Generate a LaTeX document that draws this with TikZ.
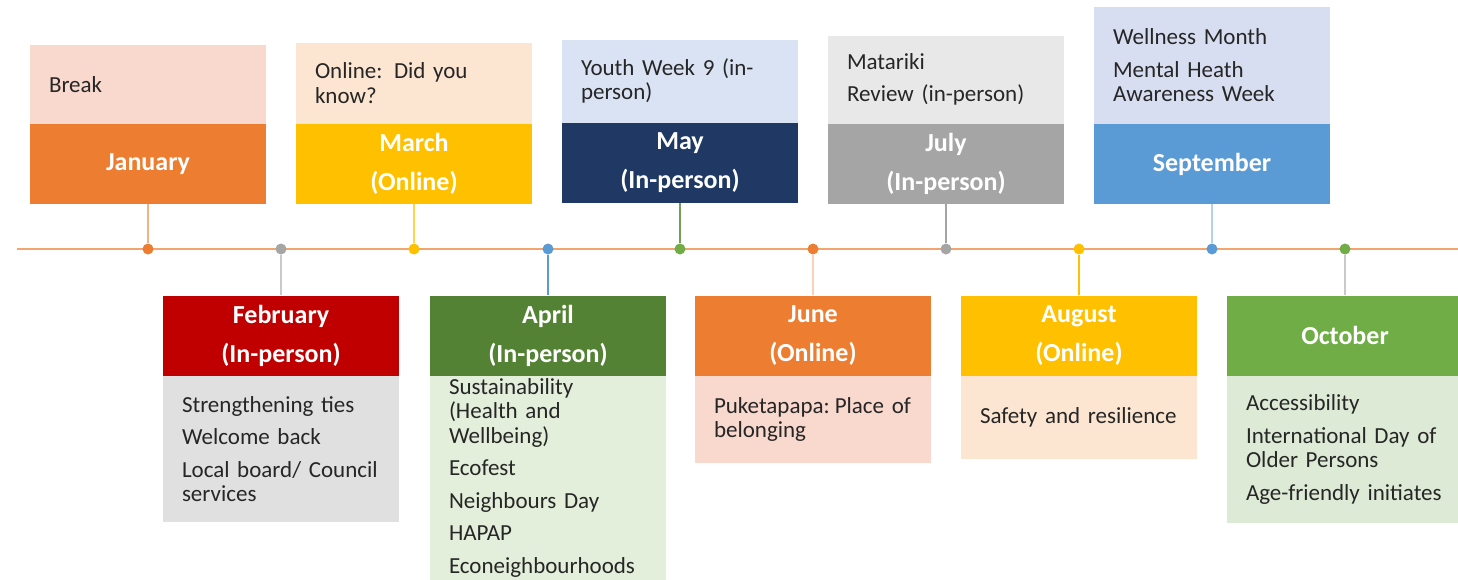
\documentclass[tikz,border=0pt]{standalone}
\usepackage{fontspec}
\setmainfont{Carlito}
\usepackage{xcolor}
\definecolor{monthorange}{RGB}{237,125,49}
\definecolor{orangelight}{RGB}{249,216,206}
\definecolor{monthgold}{RGB}{255,192,0}
\definecolor{goldlight}{RGB}{252,229,209}
\definecolor{monthnavy}{RGB}{31,56,100}
\definecolor{navylight}{RGB}{218,227,243}
\definecolor{monthgray}{RGB}{165,165,165}
\definecolor{graylight}{RGB}{232,232,232}
\definecolor{monthblue}{RGB}{91,155,213}
\definecolor{bluelight}{RGB}{216,222,241}
\definecolor{monthred}{RGB}{192,0,0}
\definecolor{redlight}{RGB}{224,224,224}
\definecolor{monthgreen}{RGB}{84,130,53}
\definecolor{greenlight}{RGB}{227,239,219}
\definecolor{monthlime}{RGB}{112,173,71}
\definecolor{limelight}{RGB}{221,234,214}
\definecolor{lineorange}{RGB}{244,164,110}
\definecolor{infotext}{RGB}{38,38,38}

\begin{document}
\begin{tikzpicture}[x=1pt, y=-1pt,
    headbox/.style={minimum width=236pt, minimum height=80pt, inner sep=0pt,
      text=white, align=center, font=\fontsize{26}{39}\selectfont\bfseries},
    infobox/.style={text width=198pt, inner xsep=19pt, inner ysep=0pt,
      align=left, text=infotext, font=\fontsize{23}{24.5}\selectfont},
    monthdot/.style={circle, minimum size=11pt, inner sep=0pt},
    stem/.style={line width=1.5pt}]
    \useasboundingbox (0,0) rectangle (1458,579);

    % Time line
    \coordinate (linestart) at (17,249);
    \coordinate (lineend) at (1458,249);
    \draw[lineorange, line width=1.8pt] (linestart) -- (lineend);

    % January
    \node (jan) [headbox, fill=monthorange] at (148,164) {January};
    \node (janinfo) [infobox, fill=orangelight, minimum height=79pt, anchor=south] at (jan.north) {Break};
    \node (jandot) [monthdot, fill=monthorange] at (148,249) {};
    \draw[stem, monthorange!60] (jan) -- (jandot);

    % February
    \node (feb) [headbox, fill=monthred] at (281,335.5) {February\\(In-person)};
    \node (febinfo) [infobox, fill=redlight, minimum height=146pt, anchor=north] at (feb.south)
      {Strengthening ties\\[8pt]Welcome back\\[8pt]\mbox{Local board/ Council}\\services};
    \node (febdot) [monthdot, fill=monthgray] at (281,249) {};
    \draw[stem, monthgray!60] (febdot) -- (feb);

    % March
    \node (mar) [headbox, fill=monthgold] at (414,164) {March\\(Online)};
    \node (marinfo) [infobox, fill=goldlight, minimum height=81pt, anchor=south] at (mar.north)
      {Online: Did you\\know?};
    \node (mardot) [monthdot, fill=monthgold] at (414,249) {};
    \draw[stem, monthgold!70] (mar) -- (mardot);

    % April
    \node (apr) [headbox, fill=monthgreen] at (548,335.5) {April\\(In-person)};
    \node (aprinfo) [infobox, fill=greenlight, minimum height=204pt, anchor=north] at (apr.south)
      {Sustainability\\(Health and\\Wellbeing)\\[8pt]Ecofest\\[8pt]Neighbours Day\\[8pt]HAPAP\\[8pt]Econeighbourhoods};
    \node (aprdot) [monthdot, fill=monthblue] at (548,249) {};
    \draw[stem, monthblue] (aprdot) -- (apr);

    % May
    \node (may) [headbox, fill=monthnavy] at (680,163) {May\\(In-person)};
    \node (mayinfo) [infobox, fill=navylight, minimum height=83pt, anchor=south] at (may.north)
      {Youth Week 9 (in-\\person)};
    \node (maydot) [monthdot, fill=monthlime] at (680,249) {};
    \draw[stem, monthlime!70!gray] (may) -- (maydot);

    % June
    \node (jun) [headbox, fill=monthorange] at (813,335.5) {June\\(Online)};
    \node (juninfo) [infobox, fill=orangelight, minimum height=87pt, anchor=north] at (jun.south)
      {\mbox{Puketapapa:\hspace{5pt}Place of}\\belonging};
    \node (jundot) [monthdot, fill=monthorange] at (813,249) {};
    \draw[stem, monthorange!35] (jundot) -- (jun);

    % July
    \node (jul) [headbox, fill=monthgray] at (946,164) {July\\(In-person)};
    \node (julinfo) [infobox, fill=graylight, minimum height=88pt, anchor=south] at (jul.north)
      {Matariki\\[8pt]Review (in-person)};
    \node (juldot) [monthdot, fill=monthgray] at (946,249) {};
    \draw[stem, monthgray] (jul) -- (juldot);

    % August
    \node (aug) [headbox, fill=monthgold] at (1079,335.5) {August\\(Online)};
    \node (auginfo) [infobox, fill=goldlight, minimum height=83pt, anchor=north] at (aug.south)
      {Safety and resilience};
    \node (augdot) [monthdot, fill=monthgold] at (1079,249) {};
    \draw[stem, monthgold] (augdot) -- (aug);

    % September
    \node (sep) [headbox, fill=monthblue] at (1212,164) {September};
    \node (sepinfo) [infobox, fill=bluelight, minimum height=117pt, anchor=south] at (sep.north)
      {Wellness Month\\[8pt]Mental Heath\\Awareness Week};
    \node (sepdot) [monthdot, fill=monthblue] at (1212,249) {};
    \draw[stem, monthblue!45] (sep) -- (sepdot);

    % October
    \node (oct) [headbox, fill=monthlime] at (1345,335.5) {October};
    \node (octinfo) [infobox, fill=limelight, minimum height=147pt, anchor=north] at (oct.south)
      {Accessibility\\[8pt]\mbox{International Day of}\\Older Persons\\[8pt]\mbox{Age-friendly initiates}};
    \node (octdot) [monthdot, fill=monthlime] at (1345,249) {};
    \draw[stem, monthgray!60] (octdot) -- (oct);
\end{tikzpicture}
\end{document}
